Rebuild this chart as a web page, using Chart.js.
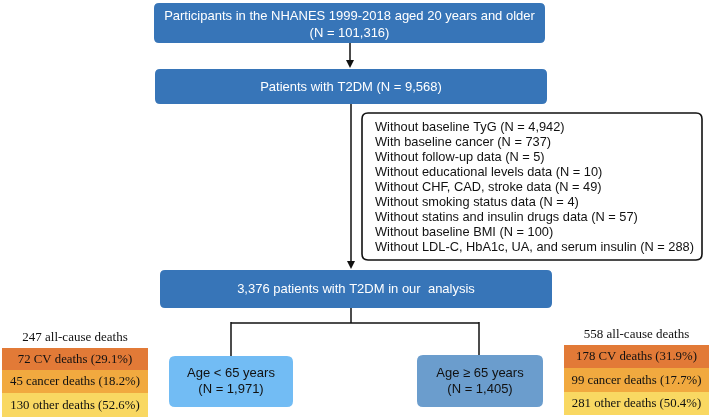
<!DOCTYPE html>
<html>
<head>
<meta charset="utf-8">
<script src="https://cdn.jsdelivr.net/npm/chart.js@4"></script>
<style>
  html, body { margin: 0; padding: 0; background: #fff; }
  #wrap { width: 712px; height: 420px; }
</style>
</head>
<body>
<div id="wrap"><canvas id="flow-chart" width="712" height="420"></canvas></div>
<script>
// DATA
var totalLabel = 'Participants in the NHANES 1999-2018 aged 20 years and older';
var totalN = '101,316';
var t2dmLabel = 'Patients with T2DM';
var t2dmN = '9,568';
var exclusionLabels = ['Without baseline TyG', 'With baseline cancer', 'Without follow-up data',
    'Without educational levels data', 'Without CHF, CAD, stroke data', 'Without smoking status data',
    'Without statins and insulin drugs data', 'Without baseline BMI',
    'Without LDL-C, HbA1c, UA, and serum insulin'];
var exclusionCounts = ['4,942', '737', '5', '10', '49', '4', '57', '100', '288'];
var finalLabel = '3,376 patients with T2DM in our  analysis';
var groupLabels = ['Age < 65 years', 'Age \u2265 65 years'];
var groupCounts = ['1,971', '1,405'];
var allCauseDeaths = [247, 558];
var causeNames = ['CV deaths', 'cancer deaths', 'other deaths'];
var deathsYoung = [72, 45, 130];
var deathsOld = [178, 99, 281];
var pctYoung = ['29.1', '18.2', '52.6'];
var pctOld = ['31.9', '17.7', '50.4'];

// LAYOUT (in canvas units, mapped through the hidden scales)
var mainBlue = '#3775b8';
var rowColors = ['#e27a37', '#f1a93f', '#f9d862'];
var sans = '"Liberation Sans", Arial, sans-serif';
var serif = '"Liberation Serif", "Times New Roman", serif';

var layout = {
    top:   {x0: 154, x1: 545, y0: 3,   y1: 43,  fill: mainBlue},
    t2dm:  {x0: 155, x1: 547, y0: 69,  y1: 104, fill: mainBlue},
    excl:  {x0: 362, x1: 702, y0: 113, y1: 260},
    final: {x0: 160, x1: 552, y0: 270, y1: 308, fill: mainBlue},
    young: {x0: 169, x1: 293, y0: 356, y1: 407, fill: '#72bcf4'},
    old:   {x0: 417, x1: 543, y0: 355, y1: 407, fill: '#6b9dcd'},
    tableYoung: {x0: 2, x1: 148, titleY: 338, rows: [348, 370, 393, 417]},
    tableOld:   {x0: 564, x1: 709, titleY: 335, rows: [345, 368, 392, 415]}
};

function roundRect(ctx, x0, y0, x1, y1, r) {
    ctx.beginPath();
    ctx.moveTo(x0 + r, y0);
    ctx.lineTo(x1 - r, y0);
    ctx.quadraticCurveTo(x1, y0, x1, y0 + r);
    ctx.lineTo(x1, y1 - r);
    ctx.quadraticCurveTo(x1, y1, x1 - r, y1);
    ctx.lineTo(x0 + r, y1);
    ctx.quadraticCurveTo(x0, y1, x0, y1 - r);
    ctx.lineTo(x0, y0 + r);
    ctx.quadraticCurveTo(x0, y0, x0 + r, y0);
    ctx.closePath();
}

var flowPlugin = {
    id: 'flow',
    afterDraw: function(chart) {
        var ctx = chart.ctx;
        var sx = chart.scales.x, sy = chart.scales.y;
        var X = function(v) { return sx.getPixelForValue(v); };
        var Y = function(v) { return sy.getPixelForValue(v); };

        function box(b, r) {
            roundRect(ctx, X(b.x0), Y(b.y0), X(b.x1), Y(b.y1), r);
            ctx.fillStyle = b.fill;
            ctx.fill();
        }
        function text(str, x, y, font, color, align) {
            ctx.font = font;
            ctx.fillStyle = color;
            ctx.textAlign = align || 'center';
            ctx.textBaseline = 'middle';
            ctx.fillText(str, X(x), Y(y));
        }
        function line(pts) {
            ctx.beginPath();
            ctx.moveTo(X(pts[0][0]), Y(pts[0][1]));
            for (var i = 1; i < pts.length; i++) ctx.lineTo(X(pts[i][0]), Y(pts[i][1]));
            ctx.strokeStyle = '#111';
            ctx.lineWidth = 1.5;
            ctx.stroke();
        }
        function arrow(x, y0, y1) {
            line([[x, y0], [x, y1 - 5]]);
            ctx.beginPath();
            ctx.moveTo(X(x), Y(y1));
            ctx.lineTo(X(x - 4), Y(y1 - 8));
            ctx.lineTo(X(x + 4), Y(y1 - 8));
            ctx.closePath();
            ctx.fillStyle = '#111';
            ctx.fill();
        }

        ctx.save();
        // connectors
        arrow(350, 43, 68);
        arrow(351, 104, 269);
        line([[351, 308], [351, 323]]);
        line([[231, 323], [479, 323]]);
        line([[231, 322], [231, 356]]);
        line([[479, 322], [479, 355]]);

        // main boxes
        var L = layout;
        var boxFont = '13px ' + sans;
        box(L.top, 5);
        var cx = (L.top.x0 + L.top.x1) / 2;
        text(totalLabel, cx, 16, boxFont, '#fff');
        text('(N = ' + totalN + ')', cx, 33, boxFont, '#fff');

        box(L.t2dm, 5);
        text(t2dmLabel + ' (N = ' + t2dmN + ')', (L.t2dm.x0 + L.t2dm.x1) / 2, 87, boxFont, '#fff');

        box(L.final, 5);
        text(finalLabel, (L.final.x0 + L.final.x1) / 2, 289, boxFont, '#fff');

        // exclusion box
        roundRect(ctx, X(L.excl.x0), Y(L.excl.y0), X(L.excl.x1), Y(L.excl.y1), 6);
        ctx.fillStyle = '#fff';
        ctx.fill();
        ctx.strokeStyle = '#111';
        ctx.lineWidth = 1.6;
        ctx.stroke();
        for (var i = 0; i < exclusionLabels.length; i++) {
            text(exclusionLabels[i] + ' (N = ' + exclusionCounts[i] + ')', 375, 127 + i * 15,
                '12.8px ' + sans, '#111', 'left');
        }

        // age groups
        [L.young, L.old].forEach(function(b, k) {
            box(b, 6);
            var c = (b.x0 + b.x1) / 2;
            text(groupLabels[k], c, 373, '13px ' + sans, '#111');
            text('(N = ' + groupCounts[k] + ')', c, 389, '13px ' + sans, '#111');
        });

        // death tables
        [[L.tableYoung, deathsYoung, pctYoung], [L.tableOld, deathsOld, pctOld]].forEach(function(t, k) {
            var tb = t[0], c = (tb.x0 + tb.x1) / 2;
            text(allCauseDeaths[k] + ' all-cause deaths', c, tb.titleY, '13px ' + serif, '#111');
            for (var j = 0; j < 3; j++) {
                ctx.fillStyle = rowColors[j];
                ctx.fillRect(X(tb.x0), Y(tb.rows[j]), X(tb.x1) - X(tb.x0), Y(tb.rows[j + 1]) - Y(tb.rows[j]));
                text(t[1][j] + ' ' + causeNames[j] + ' (' + t[2][j] + '%)', c,
                    (tb.rows[j] + tb.rows[j + 1]) / 2 + 0.5, '12.8px ' + serif, '#111');
            }
        });
        ctx.restore();
    }
};

var flowChart;
function loadFlowChart() {
    var context = document.getElementById('flow-chart').getContext('2d');
    flowChart = new Chart(context, {
        type: 'scatter',
        data: { datasets: [{ data: [], pointRadius: 0 }] },
        options: {
            responsive: false,
            animation: false,
            layout: { padding: 0 },
            plugins: { legend: { display: false }, tooltip: { enabled: false } },
            scales: {
                x: { type: 'linear', min: 0, max: 712, display: false },
                y: { type: 'linear', min: 0, max: 420, reverse: true, display: false }
            }
        },
        plugins: [flowPlugin]
    });
}
loadFlowChart();
</script>
</body>
</html>
